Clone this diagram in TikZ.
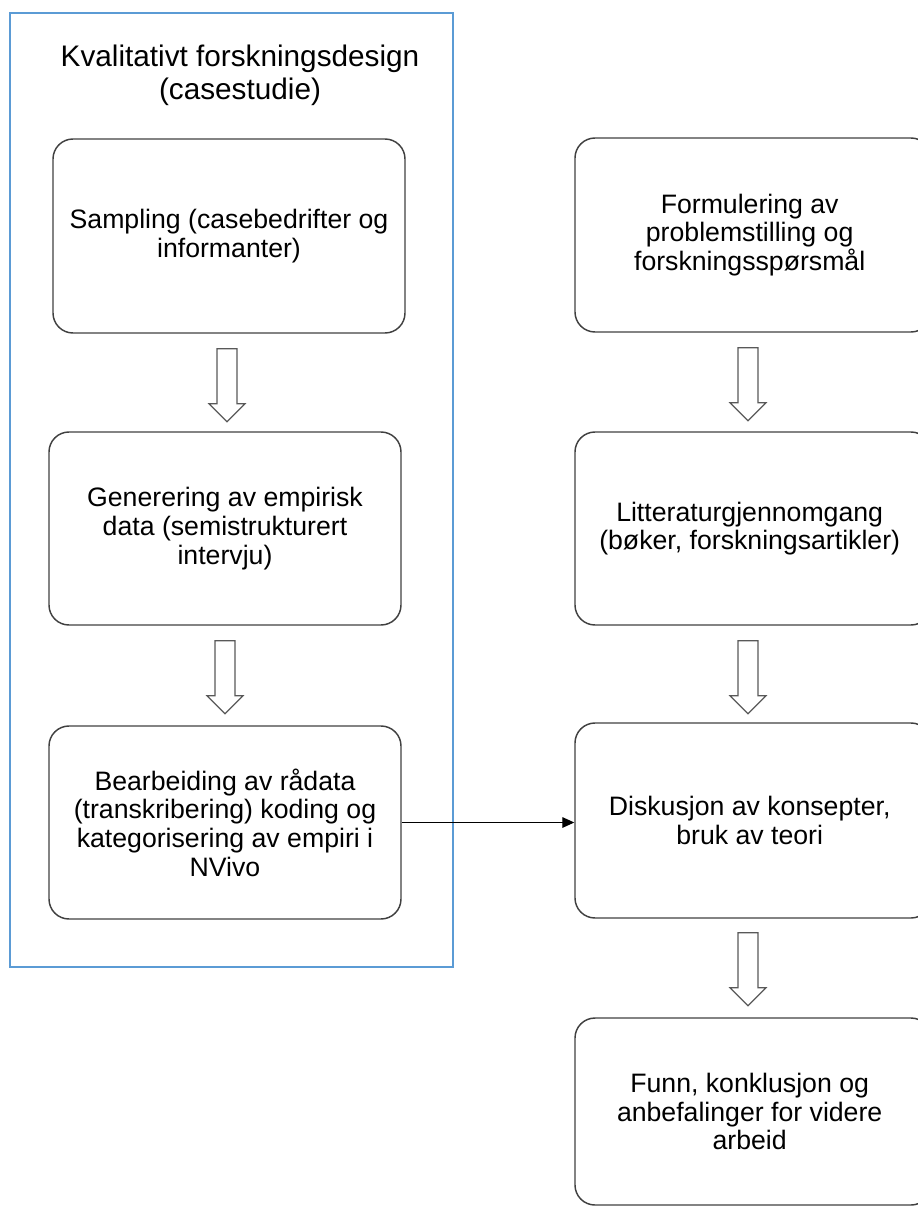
\documentclass[tikz,border=0pt]{standalone}
\usepackage{fontspec}
\setmainfont{Liberation Sans}
\usetikzlibrary{arrows.meta}
\definecolor{frameblue}{HTML}{5B9BD5}
\definecolor{boxline}{HTML}{404040}
\definecolor{arrowline}{HTML}{595959}
\begin{document}
\begin{tikzpicture}[x=0.75pt,y=-0.75pt,
  stepbox/.style={draw=boxline,line width=1.1pt,rounded corners=15pt,
    align=center,inner sep=0pt,
    font=\fontsize{20}{21.5}\selectfont,
    minimum width=264pt,minimum height=145.5pt},
  rightbox/.style={stepbox,minimum width=267pt},
  hollow/.style={draw=arrowline,line width=0.9pt,fill=white,line join=miter},
  blockarrow/.pic={\draw[hollow] (-10,0) -- (10,0) -- (10,55) -- (18,55)
    -- (0,73) -- (-18,55) -- (-10,55) -- cycle;}]
\useasboundingbox (0,0) rectangle (917,1209);

% frame around the qualitative design steps
\node[draw=frameblue,line width=0.8pt,minimum width=332.25pt,
  minimum height=715.5pt,inner sep=0pt] (frame) at (231.5,490) {};
\node[align=center,font=\fontsize{22.3}{25}\selectfont] (title) at (240,75)
  {Kvalitativt forskningsdesign\\(casestudie)};

% left column
\node[stepbox] (samp) at (229,236) {Sampling (casebedrifter og\\informanter)};
\node[stepbox,minimum height=144.75pt] (gen) at (225,528.5)
  {Generering av empirisk\\data (semistrukturert\\intervju)};
\node[stepbox,minimum height=144.75pt] (bear) at (225,822.5)
  {Bearbeiding av rådata\\(transkribering) koding og\\kategorisering av empiri i\\NVivo};

% right column (boxes run past the right edge)
\node[rightbox] (form) at (753,235)
  {\hspace*{-5pt}Formulering av\\\hspace*{-5pt}problemstilling og\\\hspace*{-5pt}forskningsspørsmål};
\node[rightbox,minimum height=144.75pt] (lit) at (753,528.5)
  {\hspace*{-5pt}Litteraturgjennomgang\\\hspace*{-5pt}(bøker, forskningsartikler)};
\node[rightbox,minimum height=146.25pt] (disk) at (753,820.5)
  {\hspace*{-5pt}Diskusjon av konsepter,\\\hspace*{-5pt}bruk av teori};
\node[rightbox,minimum height=140.25pt] (funn) at (753,1111.5)
  {\hspace*{-5pt}Funn, konklusjon og\\\hspace*{-5pt}anbefalinger for videre\\\hspace*{-5pt}arbeid};

% hollow block arrows between steps
\path (samp.south) ++(-2,15) pic {blockarrow};
\path (gen.south) ++(0,15) pic {blockarrow};
\path (form.south) ++(-5,15) pic {blockarrow};
\path (lit.south) ++(-5,15) pic {blockarrow};
\path (disk.south) ++(-5,14) pic {blockarrow};

% link from data processing to discussion
\draw[line width=0.75pt,-{Triangle[length=9pt,width=8pt]}]
  (bear.east) -- (bear.east -| disk.west);
\end{tikzpicture}
\end{document}
